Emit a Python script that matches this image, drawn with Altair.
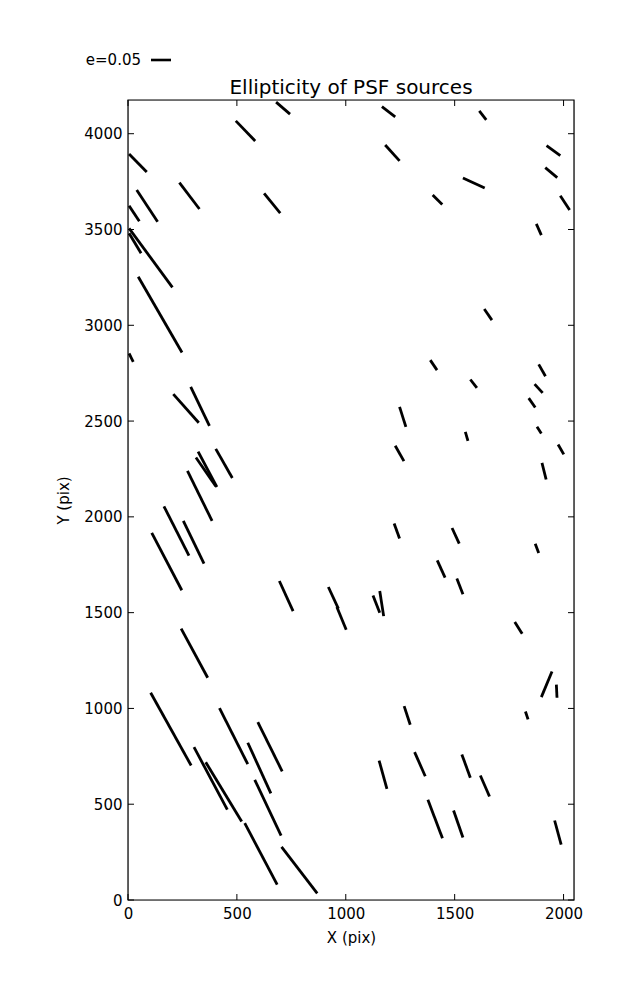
import altair as alt
import pandas as pd

# whisker end points (data units)
x1 = [680, 495, 5, 236, 625, 40, 5, 5, 5, 47, 5,
      1166, 1613, 1181, 1922, 1916, 1538, 1399, 1985, 1875, 1636, 1388, 1886,
      208, 288, 322, 312, 403, 273, 165, 254, 109, 695, 920, 959, 244,
      104, 420, 596, 550, 303, 357, 582, 536, 705,
      1572, 1867, 1840, 1247, 1878, 1549, 1975, 1227, 1901, 1222, 1488, 1870,
      1420, 1510, 1125, 1156, 1776, 1898, 1967, 1825, 1268, 1316, 1533, 1153,
      1618, 1377, 1495, 1959]
y1 = [4165, 4067, 3894, 3745, 3689, 3706, 3624, 3506, 3480, 3253, 2853,
      4141, 4119, 3941, 3938, 3823, 3769, 3680, 3676, 3529, 3085, 2818, 2796,
      2641, 2679, 2341, 2310, 2355, 2240, 2055, 1979, 1916, 1665, 1634, 1529, 1417,
      1082, 1002, 928, 821, 798, 719, 627, 401, 277,
      2717, 2693, 2620, 2574, 2470, 2444, 2378, 2371, 2282, 1965, 1942, 1860,
      1773, 1678, 1590, 1613, 1451, 1059, 1124, 984, 1012, 772, 760, 728,
      650, 523, 467, 415]
x2 = [744, 584, 86, 328, 699, 136, 52, 204, 60, 248, 24,
      1227, 1645, 1247, 1985, 1971, 1638, 1443, 2028, 1898, 1671, 1419, 1917,
      325, 374, 408, 403, 479, 386, 280, 349, 247, 758, 966, 1002, 366,
      290, 550, 708, 656, 456, 522, 703, 685, 869,
      1602, 1904, 1870, 1276, 1898, 1561, 2001, 1267, 1920, 1247, 1521, 1886,
      1456, 1538, 1156, 1174, 1810, 1947, 1970, 1837, 1296, 1365, 1572, 1189,
      1660, 1444, 1538, 1989]
y2 = [4102, 3962, 3800, 3607, 3586, 3541, 3543, 3198, 3376, 2858, 2809,
      4088, 4072, 3858, 3886, 3771, 3717, 3630, 3602, 3471, 3027, 2766, 2734,
      2491, 2475, 2156, 2160, 2203, 1979, 1798, 1756, 1617, 1508, 1521, 1411, 1160,
      702, 709, 672, 557, 472, 410, 336, 80, 35,
      2673, 2647, 2571, 2470, 2435, 2397, 2326, 2291, 2195, 1887, 1860, 1811,
      1683, 1596, 1500, 1482, 1390, 1193, 1056, 943, 915, 646, 638, 580,
      540, 322, 326, 289]

x_ticks = [0, 500, 1000, 1500, 2000]
y_ticks = [0, 500, 1000, 1500, 2000, 2500, 3000, 3500, 4000]
x_domain = [0, 2048]
y_domain = [0, 4176]
title_text = ["Ellipticity of PSF sources"]
legend_label = ["e=0.05"]

W, H = 446, 800
FONT = "DejaVu Sans"

seg = pd.DataFrame({"x1": x1, "y1": y1, "x2": x2, "y2": y2})
xt = pd.DataFrame({"t": x_ticks})
yt = pd.DataFrame({"t": y_ticks})

xs = alt.Scale(domain=x_domain, nice=False, zero=False)
ys = alt.Scale(domain=y_domain, nice=False, zero=False)

xaxis = alt.Axis(values=x_ticks, ticks=False, domain=False, grid=False, format="d",
                 labelFont=FONT, labelFontSize=15, labelColor="black",
                 labelPadding=6, title="X (pix)", titleFont=FONT,
                 titleFontSize=15, titleFontWeight="normal", titleColor="black",
                 titlePadding=9, labelFlush=False)
yaxis = alt.Axis(values=y_ticks, ticks=False, domain=False, grid=False, format="d",
                 labelFont=FONT, labelFontSize=15, labelColor="black",
                 labelPadding=6, title="Y (pix)", titleFont=FONT,
                 titleFontSize=15, titleFontWeight="normal", titleColor="black",
                 titlePadding=12, labelFlush=False)

whiskers = alt.Chart(seg).mark_rule(color="black", strokeWidth=2.8, clip=True).encode(
    x=alt.X("x1:Q", scale=xs, axis=xaxis),
    y=alt.Y("y1:Q", scale=ys, axis=yaxis),
    x2="x2:Q",
    y2="y2:Q",
)

tick_bot = alt.Chart(xt).mark_rule(color="black", strokeWidth=1).encode(
    x=alt.X("t:Q", scale=xs), y=alt.value(H), y2=alt.value(H - 6))
tick_top = alt.Chart(xt).mark_rule(color="black", strokeWidth=1).encode(
    x=alt.X("t:Q", scale=xs), y=alt.value(0), y2=alt.value(6))
tick_left = alt.Chart(yt).mark_rule(color="black", strokeWidth=1).encode(
    y=alt.Y("t:Q", scale=ys), x=alt.value(0), x2=alt.value(6))
tick_right = alt.Chart(yt).mark_rule(color="black", strokeWidth=1).encode(
    y=alt.Y("t:Q", scale=ys), x=alt.value(W), x2=alt.value(W - 6))

frame = alt.Chart(pd.DataFrame({"a": [0]})).mark_rect(
    fill=None, stroke="black", strokeWidth=1.2
).encode(x=alt.value(0), x2=alt.value(W), y=alt.value(0), y2=alt.value(H))

title = alt.Chart(pd.DataFrame({"label": title_text})).mark_text(
    font=FONT, fontSize=20, color="black", align="center", baseline="alphabetic"
).encode(text="label:N", x=alt.value(W / 2), y=alt.value(-6))

leg_text = alt.Chart(pd.DataFrame({"label": legend_label})).mark_text(
    font=FONT, fontSize=15, color="black", align="right", baseline="middle"
).encode(text="label:N", x=alt.value(13), y=alt.value(-40))
leg_line = alt.Chart(pd.DataFrame({"label": legend_label})).mark_rule(
    color="black", strokeWidth=2.6
).encode(x=alt.value(23), x2=alt.value(43), y=alt.value(-40))

chart = alt.layer(
    whiskers, tick_bot, tick_top, tick_left, tick_right, frame, title, leg_text, leg_line
).properties(
    width=W, height=H,
    autosize=alt.AutoSizeParams(type="none"),
    padding={"left": 120, "top": 92, "right": 40, "bottom": 60},
).configure_view(stroke=None).configure(background="white")

chart.save("out.html", embed_options={"renderer": "svg", "actions": False})
